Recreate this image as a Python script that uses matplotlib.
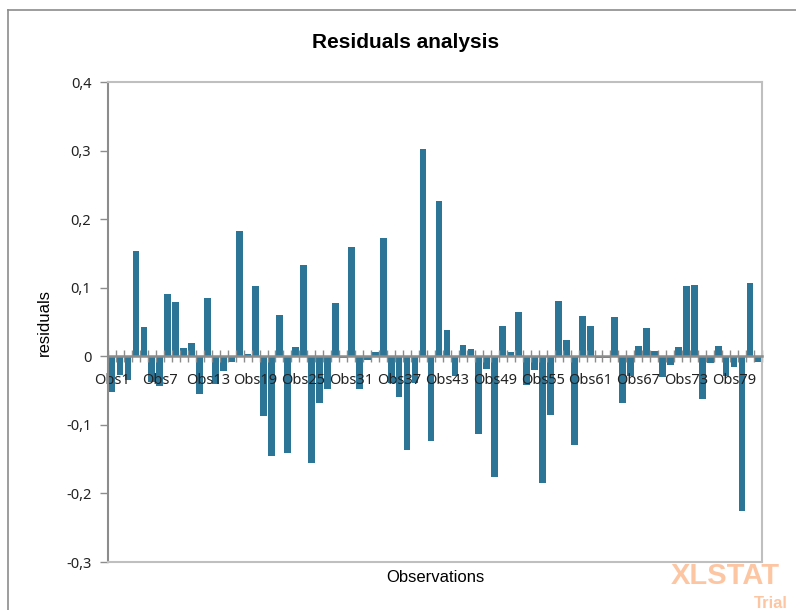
import numpy as np
import matplotlib
matplotlib.use("Agg")
import matplotlib.pyplot as plt
from matplotlib.ticker import FixedLocator, FuncFormatter

residuals = [-0.052, -0.027, -0.035, 0.154, 0.042, -0.038, -0.044, 0.091, 0.079, 0.012,
             0.020, -0.055, 0.085, -0.040, -0.022, -0.009, 0.183, 0.003, 0.102, -0.087,
             -0.145, 0.060, -0.141, 0.014, 0.133, -0.155, -0.068, -0.047, 0.078, -0.003,
             0.160, -0.047, -0.005, 0.006, 0.173, -0.039, -0.060, -0.136, -0.039, 0.303,
             -0.124, 0.226, 0.039, -0.029, 0.016, 0.011, -0.114, -0.019, -0.176, 0.044,
             0.006, 0.064, -0.042, -0.020, -0.185, -0.085, 0.081, 0.024, -0.129, 0.059,
             0.044, -0.002, -0.003, 0.057, -0.068, -0.029, 0.015, 0.041, 0.007, -0.030,
             -0.013, 0.014, 0.102, 0.104, -0.062, -0.010, 0.015, -0.029, -0.015, -0.225,
             0.107, -0.008]
obs_names = ["Obs" + str(i + 1) for i in range(len(residuals))]
label_every = 6
y_ticks = [-0.3, -0.2, -0.1, 0, 0.1, 0.2, 0.3, 0.4]

bar_col = '#2c7597'
axis_gray = '#8c8c8c'
box_gray = '#bfbfbf'

fig = plt.figure(figsize=(7.96, 6.10), dpi=100)
ax = fig.add_axes([108/796, 1-562/610, (762-108)/796, (562-82)/610])

n = len(residuals)
x = np.arange(n)
ax.bar(x, residuals, width=0.85, color=bar_col, zorder=1)

ax.set_xlim(-0.5, n - 0.5)
ax.set_ylim(-0.3, 0.4)

# y axis
ax.yaxis.set_major_locator(FixedLocator(y_ticks))
ax.yaxis.set_major_formatter(FuncFormatter(
    lambda v, p: '0' if abs(v) < 1e-9 else ('%.1f' % v).replace('.', ',')))
ax.tick_params(axis='y', direction='out', length=6, width=1, color=axis_gray,
               labelsize=10.5, labelcolor='#222222', pad=6)
for t in ax.get_yticklabels():
    t.set_family('Noto Sans')

# x axis sits at zero
ax.spines['bottom'].set_position(('data', 0))
ax.spines['bottom'].set_color(axis_gray)
ax.spines['bottom'].set_linewidth(1.8)
ax.spines['left'].set_color(axis_gray)
ax.spines['left'].set_linewidth(1.5)
ax.spines['top'].set_color(box_gray)
ax.spines['right'].set_color(box_gray)
ax.spines['top'].set_linewidth(1.5)
ax.spines['right'].set_linewidth(1.5)
ax.axhline(-0.3, color=box_gray, lw=1.5, clip_on=False, zorder=3)

ax.set_xticks(x[::label_every])
ax.set_xticklabels(obs_names[::label_every], family='Noto Sans', fontsize=10.5,
                   color='#222222')
ax.set_xticks(np.arange(n + 1) - 0.5, minor=True)
ax.tick_params(axis='x', which='major', length=0, pad=12)
ax.tick_params(axis='x', which='minor', direction='inout', length=9, width=1,
               color=axis_gray)

ax.set_ylabel('residuals', family='Liberation Sans', fontsize=12, labelpad=10)
fig.text(435/796, 1-578/610, 'Observations', family='Liberation Sans', fontsize=12,
         ha='center', va='center')
fig.text(406/796, 1-42/610, 'Residuals analysis', family='Liberation Sans',
         fontsize=15, fontweight='bold', ha='center', va='center')

# watermark
fig.text(671/796, 1-576/610, 'XLSTAT', family='Liberation Sans', fontsize=21,
         fontweight='bold', color='#fdc6a3', ha='left', va='center')
fig.text(754/796, 1-603/610, 'Trial', family='Liberation Sans', fontsize=12,
         fontweight='bold', color='#fdc6a3', ha='left', va='center')

# chart area border
fig.add_artist(plt.Line2D([8/796, 8/796], [0, 1-10/610], color='#8c8c8c', lw=1.2))
fig.add_artist(plt.Line2D([8/796, 1], [1-10/610, 1-10/610], color='#8c8c8c', lw=1.2))

fig.savefig('out.png', dpi=100)
